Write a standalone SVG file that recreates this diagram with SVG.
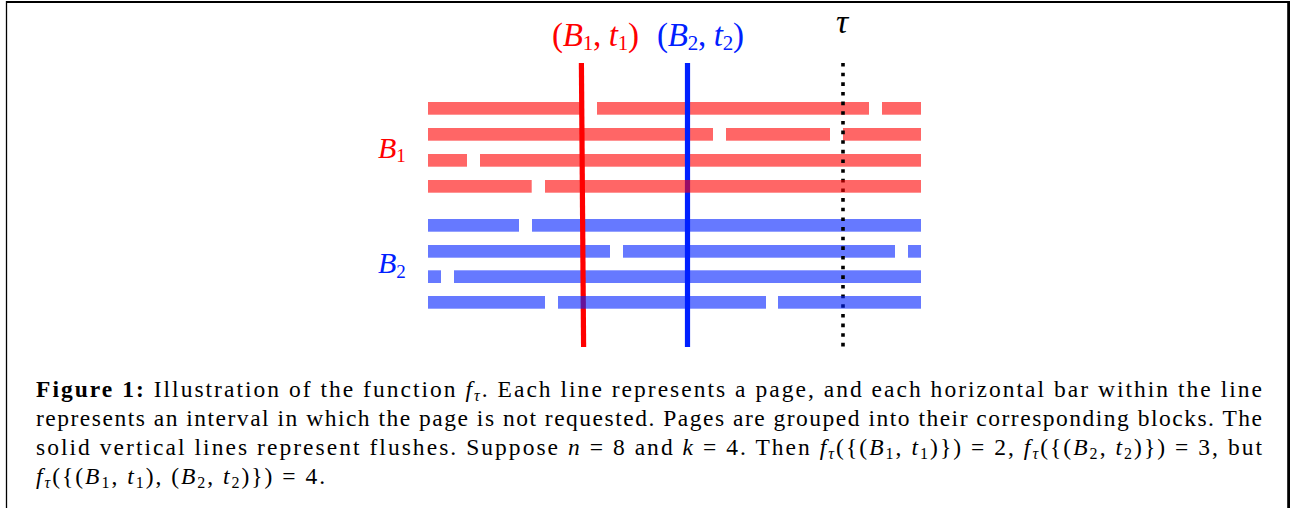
<svg xmlns="http://www.w3.org/2000/svg" width="1293" height="508" viewBox="0 0 1293 508">
<style>
  .serif { font-family: "Liberation Serif", "DejaVu Serif", serif; }
  .it { font-style: italic; }
  .bd { font-weight: bold; }
  .red { fill: #FF0000; }
  .blue { fill: #0020FF; }
  .rbar { fill: #FF0000; fill-opacity: 0.6; }
  .bbar { fill: #0020FF; fill-opacity: 0.6; }
  .cap { font-size: 23.5px; fill: #000; }
  .flush { fill: none; stroke-width: 5.2; stroke-linecap: butt; }
</style>
<rect x="0" y="0" width="1293" height="508" fill="#ffffff"/>

<!-- frame -->
<g id="frame" stroke="#000" fill="none">
  <line x1="6.5" y1="1" x2="6.5" y2="508" stroke-width="1.3"/>
  <line x1="6" y1="2" x2="1290" y2="2" stroke-width="2.2"/>
  <line x1="1288.6" y1="1" x2="1288.6" y2="508" stroke-width="2.8"/>
</g>

<!-- labels -->
<g id="label-B1t1">
  <text class="serif red" x="552" y="46" font-size="33" textLength="87" lengthAdjust="spacing">(<tspan class="it">B</tspan><tspan font-size="21" dy="4">1</tspan><tspan dy="-4">, </tspan><tspan class="it">t</tspan><tspan font-size="21" dy="4">1</tspan><tspan dy="-4">)</tspan></text>
</g>
<g id="label-B2t2">
  <text class="serif blue" x="657" y="46" font-size="33" textLength="87" lengthAdjust="spacing">(<tspan class="it">B</tspan><tspan font-size="21" dy="4">2</tspan><tspan dy="-4">, </tspan><tspan class="it">t</tspan><tspan font-size="21" dy="4">2</tspan><tspan dy="-4">)</tspan></text>
</g>
<g id="label-tau">
  <text class="serif it" x="836" y="33" font-size="34" fill="#000">τ</text>
</g>
<g id="label-B1">
  <text class="serif red" x="378" y="158" font-size="30"><tspan class="it">B</tspan><tspan font-size="19" dy="4">1</tspan></text>
</g>
<g id="label-B2">
  <text class="serif blue" x="378" y="273" font-size="30"><tspan class="it">B</tspan><tspan font-size="19" dy="5">2</tspan></text>
</g>

<!-- block B1 rows 1-3 -->
<g id="block-B1-top">
  <rect class="rbar" x="428" y="102" width="156" height="12.7"/>
  <rect class="rbar" x="597" y="102" width="272" height="12.7"/>
  <rect class="rbar" x="882" y="102" width="39" height="12.7"/>
  <rect class="rbar" x="428" y="128" width="285" height="12.7"/>
  <rect class="rbar" x="726" y="128" width="104" height="12.7"/>
  <rect class="rbar" x="843" y="128" width="78" height="12.7"/>
  <rect class="rbar" x="428" y="154" width="39" height="12.7"/>
  <rect class="rbar" x="480" y="154" width="441" height="12.7"/>
</g>
<!-- block B2 rows 1-3 -->
<g id="block-B2-top">
  <rect class="bbar" x="428" y="219" width="91" height="12.7"/>
  <rect class="bbar" x="532" y="219" width="389" height="12.7"/>
  <rect class="bbar" x="428" y="245" width="182" height="12.7"/>
  <rect class="bbar" x="623" y="245" width="272" height="12.7"/>
  <rect class="bbar" x="908" y="245" width="13" height="12.7"/>
  <rect class="bbar" x="428" y="270.3" width="13" height="12.7"/>
  <rect class="bbar" x="454" y="270.3" width="467" height="12.7"/>
</g>

<!-- vertical lines -->
<g id="connectors">
  <line id="flush-B1" class="flush" x1="581.4" y1="63" x2="583.6" y2="347" stroke="#FF0000"/>
  <line id="flush-B2" class="flush" x1="687.5" y1="63" x2="687.5" y2="347" stroke="#0020FF"/>
  <line id="tau-line" x1="843" y1="63" x2="843" y2="347" stroke="#000" stroke-width="3.6" stroke-dasharray="3.6 6.05" fill="none"/>
</g>

<!-- last rows drawn over lines -->
<g id="block-B1-last">
  <rect class="rbar" x="428" y="180" width="103.7" height="12.7"/>
  <rect class="rbar" x="545" y="180" width="376" height="12.7"/>
</g>
<g id="block-B2-last">
  <rect class="bbar" x="428" y="296" width="117" height="12.7"/>
  <rect class="bbar" x="558" y="296" width="208" height="12.7"/>
  <rect class="bbar" x="778" y="296" width="143" height="12.7"/>
</g>

<!-- caption -->
<g id="caption" class="serif cap">
  <text x="36" y="397" textLength="1226" lengthAdjust="spacing"><tspan class="bd">Figure 1:</tspan> Illustration of the function <tspan class="it">f</tspan><tspan class="it" font-size="16" dy="4">τ</tspan><tspan dy="-4">. Each line represents a page, and each horizontal bar within the line</tspan></text>
  <text x="36" y="426" textLength="1226" lengthAdjust="spacing">represents an interval in which the page is not requested. Pages are grouped into their corresponding blocks. The</text>
  <text x="36" y="455" textLength="1226" lengthAdjust="spacing">solid vertical lines represent flushes. Suppose <tspan class="it">n</tspan> = 8 and <tspan class="it">k</tspan> = 4. Then <tspan class="it">f</tspan><tspan class="it" font-size="16" dy="4">τ</tspan><tspan dy="-4">({(</tspan><tspan class="it">B</tspan><tspan font-size="16" dy="4">1</tspan><tspan dy="-4">, </tspan><tspan class="it">t</tspan><tspan font-size="16" dy="4">1</tspan><tspan dy="-4">)}) = 2, </tspan><tspan class="it">f</tspan><tspan class="it" font-size="16" dy="4">τ</tspan><tspan dy="-4">({(</tspan><tspan class="it">B</tspan><tspan font-size="16" dy="4">2</tspan><tspan dy="-4">, </tspan><tspan class="it">t</tspan><tspan font-size="16" dy="4">2</tspan><tspan dy="-4">)}) = 3, but</tspan></text>
  <text x="36" y="484" textLength="289" lengthAdjust="spacing"><tspan class="it">f</tspan><tspan class="it" font-size="16" dy="4">τ</tspan><tspan dy="-4">({(</tspan><tspan class="it">B</tspan><tspan font-size="16" dy="4">1</tspan><tspan dy="-4">, </tspan><tspan class="it">t</tspan><tspan font-size="16" dy="4">1</tspan><tspan dy="-4">), (</tspan><tspan class="it">B</tspan><tspan font-size="16" dy="4">2</tspan><tspan dy="-4">, </tspan><tspan class="it">t</tspan><tspan font-size="16" dy="4">2</tspan><tspan dy="-4">)}) = 4.</tspan></text>
</g>
</svg>
